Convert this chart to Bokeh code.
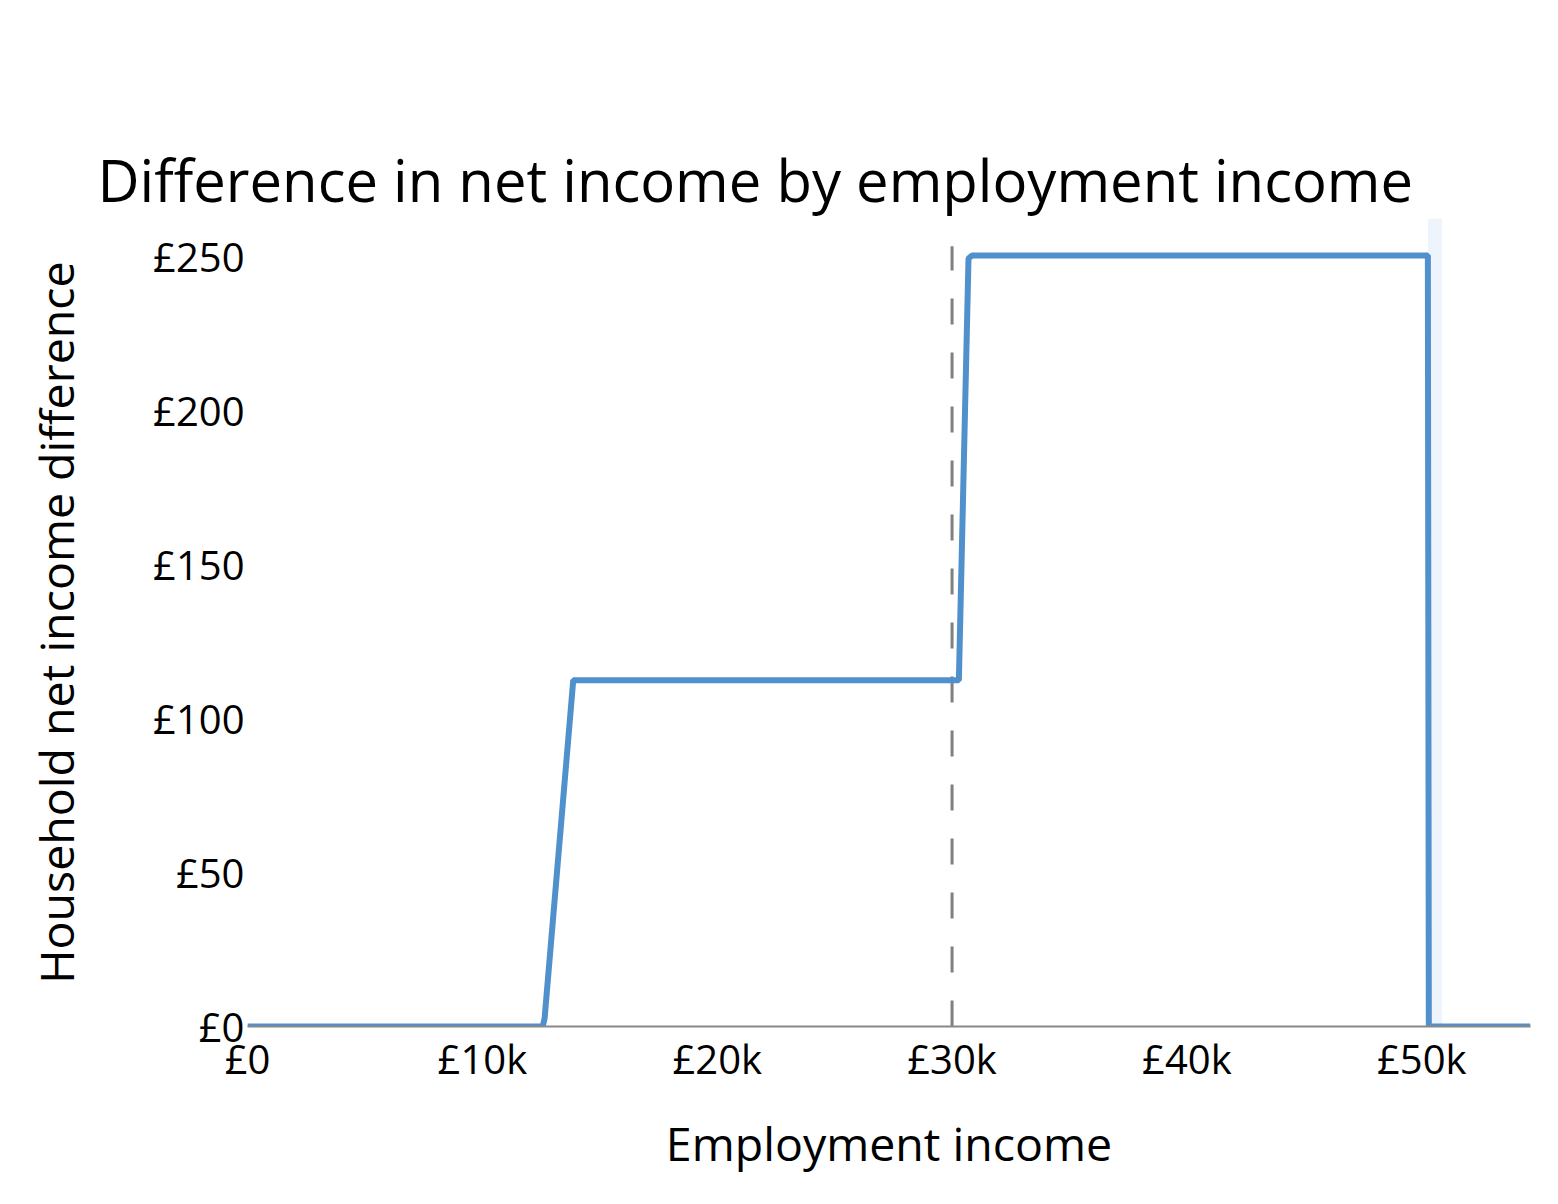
from bokeh.plotting import figure
from bokeh.models import FixedTicker, Range1d, LinearAxis
from bokeh.embed import file_html
from bokeh.resources import INLINE

# Data
income = [0, 12570, 12650, 13870, 30290, 30700, 30850, 50260, 50300, 54630]
net_diff = [0, 0, 2.6, 112.5, 112.5, 249.5, 250.5, 250.5, 0, 0]

marker_x = [30000]
marker_top = [253.5]

band_left = [50260]
band_right = [50860]

x_ticks = [0, 10000, 20000, 30000, 40000, 50000]
x_tick_labels = ["£0", "£10k", "£20k", "£30k", "£40k", "£50k"]
y_ticks = [0, 50, 100, 150, 200, 250]
y_tick_labels = ["£0", "£50", "£100", "£150", "£200", "£250"]

TITLE = "Difference in net income by employment income"
FONT = "Open Sans"

p = figure(
    width=1550, height=1186,
    frame_width=1283, frame_height=808,
    output_backend="svg", toolbar_location=None,
    x_range=Range1d(0, 54630), y_range=Range1d(0, 262.5),
    title=TITLE,
)
p.min_border_left = 247
p.min_border_right = 20
p.min_border_top = 218
p.min_border_bottom = 160
p.outline_line_color = None
p.background_fill_color = "white"
p.border_fill_color = "white"
p.xgrid.visible = False
p.ygrid.visible = False

p.title.text_font = FONT
p.title.text_font_size = "58px"
p.title.text_font_style = "normal"
p.title.text_color = "black"
p.title.align = "left"
p.title.offset = -150
p.title.standoff = 0

# real axes (taken before any extra axis is added)
xa = p.below[0]
ya = p.left[0]

# highlight band
p.quad(left=band_left, right=band_right, bottom=[0], top=[262.5],
       fill_color="#eef4fb", line_color=None)

# dashed marker
p.segment(x0=marker_x, y0=[0], x1=marker_x, y1=marker_top,
          line_color="#808080", line_width=3, line_dash="26 28")

# main line
p.line(income, net_diff, line_color="#5091cd", line_width=6)

xa.ticker = FixedTicker(ticks=x_ticks)
xa.major_label_overrides = {t: l for t, l in zip(x_ticks, x_tick_labels)}
xa.axis_label = "Employment income"
xa.axis_line_color = "#888888"
xa.axis_line_width = 2
xa.major_tick_line_color = None
xa.minor_tick_line_color = None
xa.major_label_text_font = FONT
xa.major_label_text_font_size = "40px"
xa.major_label_text_color = "black"
xa.major_label_standoff = -2
xa.axis_label_text_font = FONT
xa.axis_label_text_font_size = "46.5px"
xa.axis_label_text_font_style = "normal"
xa.axis_label_text_color = "black"
xa.axis_label_standoff = 22

ya.ticker = FixedTicker(ticks=y_ticks)
ya.major_label_overrides = {t: l for t, l in zip(y_ticks, y_tick_labels)}
ya.axis_label = "Household net income difference"
ya.axis_line_color = None
ya.major_tick_line_color = None
ya.minor_tick_line_color = None
ya.major_label_text_font = FONT
ya.major_label_text_font_size = "40px"
ya.major_label_text_color = "black"
ya.major_label_standoff = -3
ya.axis_label_text_font = FONT
ya.axis_label_text_font_size = "46.5px"
ya.axis_label_text_font_style = "normal"
ya.axis_label_text_color = "black"
ya.axis_label_standoff = 62

# invisible spacer (empty axis) between the title and the plot area
spacer = LinearAxis(ticker=FixedTicker(ticks=[]), axis_line_color=None,
                    major_tick_line_color=None, minor_tick_line_color=None,
                    major_tick_in=0, major_tick_out=139,
                    minor_tick_in=0, minor_tick_out=0,
                    major_label_standoff=0, axis_label_standoff=0,
                    major_label_text_font_size="1px")
p.add_layout(spacer, "above")

open("out.html", "w").write(file_html(p, INLINE))
